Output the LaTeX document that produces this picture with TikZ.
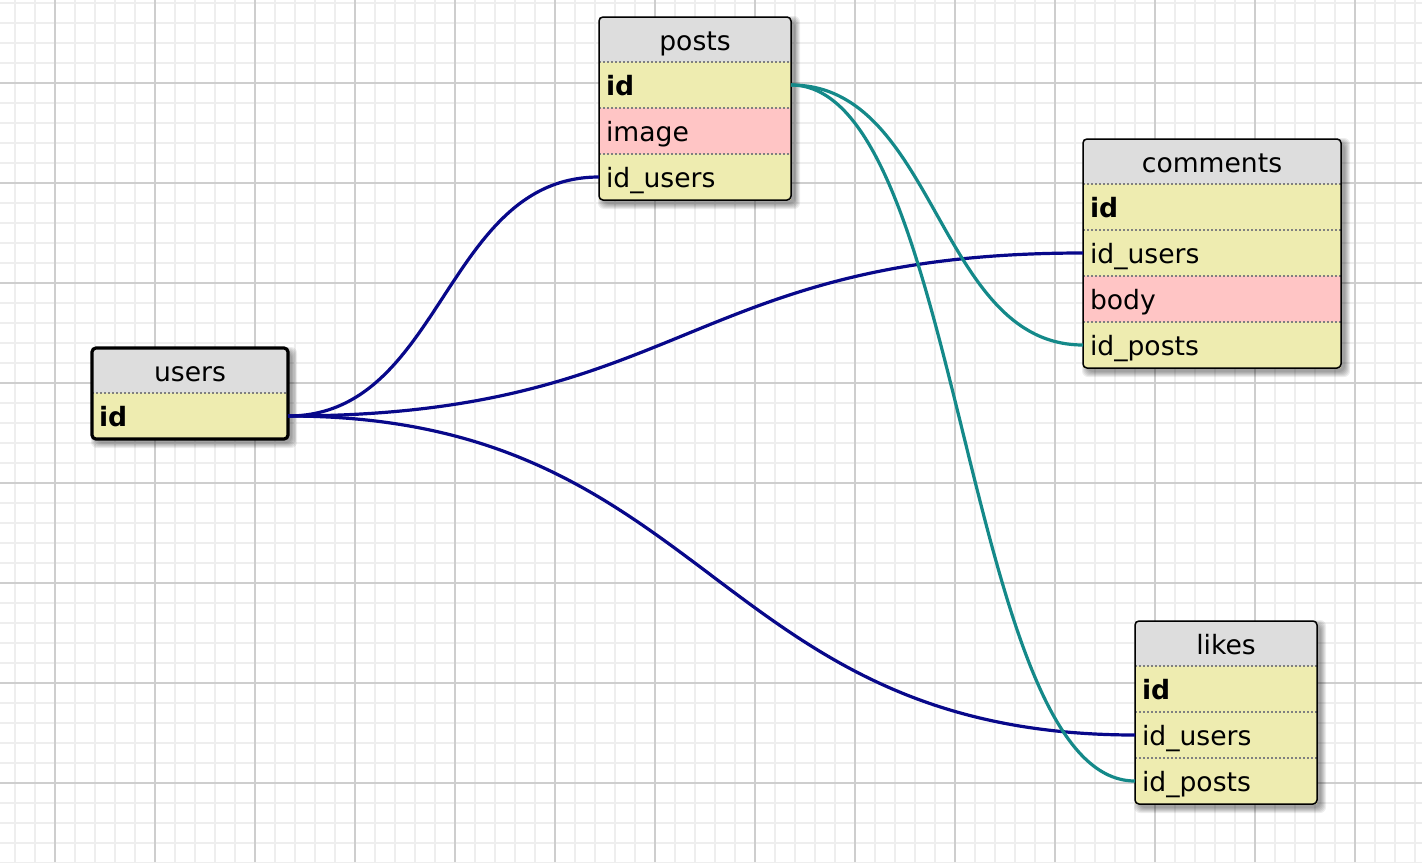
\documentclass[tikz,border=0pt]{standalone}
\usepackage{fontspec}
\setmainfont{DejaVu Sans}
\usetikzlibrary{positioning,backgrounds}
\definecolor{headgray}{RGB}{221,221,221}
\definecolor{rowyellow}{RGB}{238,236,176}
\definecolor{rowpink}{RGB}{255,197,197}
\definecolor{linkblue}{RGB}{8,8,138}
\definecolor{linkteal}{RGB}{20,137,137}
\definecolor{gridminor}{RGB}{238,238,238}
\definecolor{gridmajor}{RGB}{206,206,206}

\begin{document}
\begin{tikzpicture}[x=0.5pt,y=-0.5pt,
    font=\fontsize{13.3}{16}\selectfont,
    tabhead/.style={fill=headgray, minimum width=#1, minimum height=22.5pt, inner sep=0pt, outer sep=0pt, text height=11.5pt, text depth=1pt, anchor=north west},
    fieldrow/.style={fill=rowyellow, text width=#1, minimum height=23pt, inner xsep=3.5pt, inner ysep=0pt, outer sep=0pt, text height=11.5pt, text depth=1pt, align=left},
    pinkrow/.style={fieldrow=#1, fill=rowpink},
    tabframe/.style={draw=black, line width=0.75pt, rounded corners=2pt},
    rowsep/.style={draw=gray, line width=0.6pt, dash pattern=on 1pt off 1pt},
    userlink/.style={draw=linkblue, line width=1.6pt},
    postlink/.style={draw=linkteal, line width=1.6pt}]
  \useasboundingbox (0,0) rectangle (1422,862);

  % Grid paper
  \begin{scope}[on background layer]
    \fill[white] (0,0) rectangle (1422,862);
    \foreach \gx in {15,35,...,1415} \draw[gridminor, line width=0.6pt] (\gx,0) -- (\gx,862);
    \foreach \gy in {3,23,...,863} \draw[gridminor, line width=0.6pt] (0,\gy) -- (1422,\gy);
    \foreach \gx in {55,155,...,1355} \draw[gridmajor, line width=0.8pt] (\gx,0) -- (\gx,862);
    \foreach \gy in {83,183,...,783} \draw[gridmajor, line width=0.8pt] (0,\gy) -- (1422,\gy);
  \end{scope}

  % users table
  \node[tabhead=98pt] (users-head) at (92,348) {users};
  \node[fieldrow=91pt, below=0pt of users-head] (users-id) {\textbf{id}};

  % posts table
  \node[tabhead=96pt] (posts-head) at (599,17) {posts};
  \node[fieldrow=89pt, below=0pt of posts-head] (posts-id) {\textbf{id}};
  \node[pinkrow=89pt, below=0pt of posts-id] (posts-image) {image};
  \node[fieldrow=89pt, below=0pt of posts-image] (posts-idusers) {id\_users};

  % comments table
  \node[tabhead=129pt] (comments-head) at (1083,139) {comments};
  \node[fieldrow=122pt, below=0pt of comments-head] (comments-id) {\textbf{id}};
  \node[fieldrow=122pt, below=0pt of comments-id] (comments-idusers) {id\_users};
  \node[pinkrow=122pt, below=0pt of comments-idusers] (comments-body) {body};
  \node[fieldrow=122pt, below=0pt of comments-body] (comments-idposts) {id\_posts};

  % likes table
  \node[tabhead=91pt] (likes-head) at (1135,621) {likes};
  \node[fieldrow=84pt, below=0pt of likes-head] (likes-id) {\textbf{id}};
  \node[fieldrow=84pt, below=0pt of likes-id] (likes-idusers) {id\_users};
  \node[fieldrow=84pt, below=0pt of likes-idusers] (likes-idposts) {id\_posts};

  % Soft shadows under the tables
  \begin{scope}[on background layer]
    \foreach \tnw/\tse in {users-head/users-id, posts-head/posts-idusers, comments-head/comments-idposts, likes-head/likes-idposts}
      \foreach \b in {0,...,5}
        \fill[black, opacity=0.07, rounded corners=3pt] ([shift={(4-\b,4-\b)}]\tnw.north west) rectangle ([shift={(4+\b,4+\b)}]\tse.south east);
  \end{scope}

  % Dotted row separators
  \draw[rowsep] (users-id.north west) -- (users-id.north east);
  \draw[rowsep] (posts-id.north west) -- (posts-id.north east);
  \draw[rowsep] (posts-image.north west) -- (posts-image.north east);
  \draw[rowsep] (posts-idusers.north west) -- (posts-idusers.north east);
  \draw[rowsep] (comments-id.north west) -- (comments-id.north east);
  \draw[rowsep] (comments-idusers.north west) -- (comments-idusers.north east);
  \draw[rowsep] (comments-body.north west) -- (comments-body.north east);
  \draw[rowsep] (comments-idposts.north west) -- (comments-idposts.north east);
  \draw[rowsep] (likes-id.north west) -- (likes-id.north east);
  \draw[rowsep] (likes-idusers.north west) -- (likes-idusers.north east);
  \draw[rowsep] (likes-idposts.north west) -- (likes-idposts.north east);

  % Frames (users is the selected one)
  \draw[tabframe, line width=1.6pt] (users-head.north west) rectangle (users-id.south east);
  \draw[tabframe] (posts-head.north west) rectangle (posts-idusers.south east);
  \draw[tabframe] (comments-head.north west) rectangle (comments-idposts.south east);
  \draw[tabframe] (likes-head.north west) rectangle (likes-idposts.south east);

  % users.id links
  \draw[userlink] (users-id.east) .. controls +(155,0) and +(-155,0) .. (posts-idusers.west);
  \draw[userlink] (users-id.east) .. controls +(397,0) and +(-397,0) .. (comments-idusers.west);
  \draw[userlink] (users-id.east) .. controls +(423,0) and +(-423,0) .. (likes-idusers.west);

  % posts.id links
  \draw[postlink] (posts-id.east) .. controls +(146,0) and +(-146,0) .. (comments-idposts.west);
  \draw[postlink] (posts-id.east) .. controls +(172,0) and +(-172,0) .. (likes-idposts.west);
\end{tikzpicture}
\end{document}
